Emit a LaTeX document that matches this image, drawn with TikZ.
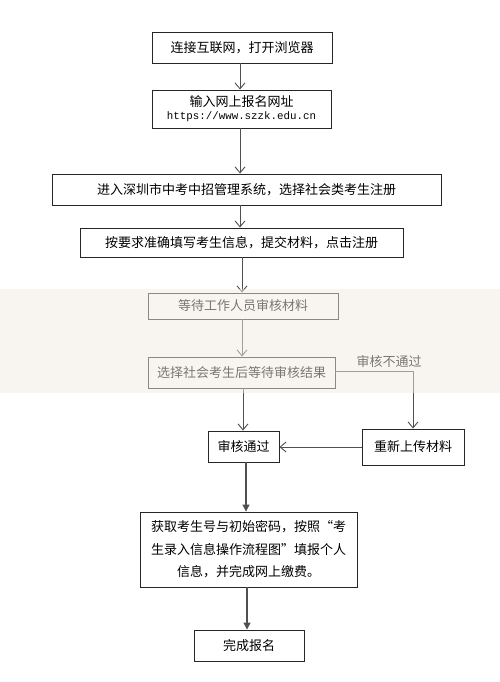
\documentclass[tikz,border=0pt]{standalone}
\usepackage{fontspec}
\setmainfont{Noto Sans CJK SC}
\newfontfamily\urlfont{Liberation Mono}
\usetikzlibrary{arrows.meta}
\definecolor{band}{RGB}{243,237,229}
\definecolor{lin}{RGB}{80,80,80}
\tikzset{
  box/.style={draw=black!85, line width=0.9pt, inner sep=0pt, align=center, font=\fontsize{13}{15}\selectfont},
  conn/.style={draw=lin, line width=1pt, -{Straight Barb[length=6pt,width=10pt,line width=0.9pt]}},
  connf/.style={draw=lin, line width=1.1pt, -{Triangle[length=7pt,width=7pt]}},
  plain/.style={draw=lin, line width=1pt},
}
\begin{document}
\begin{tikzpicture}[x=1pt,y=-1pt]
\useasboundingbox (0,0) rectangle (500,682);
\fill[white] (0,0) rectangle (500,682);
\node[box, minimum width=180pt, minimum height=31pt] (b1) at (242,47.5) {连接互联网，打开浏览器};
\node[box, minimum width=179pt, minimum height=38pt] (b2) at (241.5,109) {输入网上报名网址\\[-2pt]{\urlfont\fontsize{10.8}{12}\selectfont https://www.szzk.edu.cn}};
\node[box, minimum width=389pt, minimum height=31pt] (b3) at (246.5,189.5) {进入深圳市中考中招管理系统，选择社会类考生注册};
\node[box, minimum width=323pt, minimum height=29pt] (b4) at (241.5,242.5) {按要求准确填写考生信息，提交材料，点击注册};
\node[box, minimum width=190pt, minimum height=26pt] (b5) at (243,306) {等待工作人员审核材料};
\node[box, minimum width=187pt, minimum height=31pt] (b6) at (241.5,372.5) {选择社会考生后等待审核结果};
\node[font=\fontsize{13}{15}\selectfont, inner sep=1pt] (lab) at (389,362) {审核不通过};
\node[box, minimum width=71pt, minimum height=31pt] (b7) at (243.5,446.5) {审核通过};
\node[box, minimum width=102pt, minimum height=36pt] (b8) at (413,447) {重新上传材料};
\node[box, minimum width=217pt, minimum height=75pt, font=\fontsize{13}{22.5}\selectfont] (b9) at (248.5,549.5) {获取考生号与初始密码，按照“考\\生录入信息操作流程图”填报个人\\信息，并完成网上缴费。};
\node[box, minimum width=110pt, minimum height=31pt] (b10) at (249,645.5) {完成报名};
\coordinate (t1) at (240,0);
\draw[conn] (b1.south -| t1) -- (b2.north -| t1);
\draw[conn] (b2.south -| t1) -- (b3.north -| t1);
\draw[conn] (b3.south -| t1) -- (b4.north -| t1);
\coordinate (t2) at (242,0);
\draw[conn] (b4.south -| t2) -- (b5.north -| t2);
\draw[conn] (b5.south -| t2) -- (b6.north -| t2);
\coordinate (t3) at (243,0);
\draw[conn] (b6.south -| t3) -- (b7.north -| t3);
\coordinate (r) at (413,371);
\draw[plain] (b6.east |- r) -- (r);
\draw[conn] (r) -- (b8.north);
\draw[conn] (b8.west) -- (b7.east |- b8.west);
\coordinate (t4) at (246,0);
\draw[connf] (b7.south -| t4) -- (b9.north -| t4);
\coordinate (t5) at (247,0);
\draw[connf] (b9.south -| t5) -- (b10.north -| t5);
\fill[band, opacity=0.5] (0,289) rectangle (500,393);
\end{tikzpicture}
\end{document}
